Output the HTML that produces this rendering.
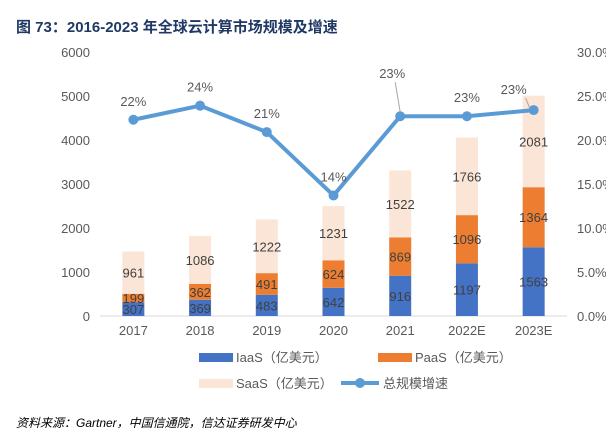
<!DOCTYPE html>
<html><head><meta charset="utf-8"><style>
body{margin:0;width:606px;height:433px;background:#fff;overflow:hidden;font-family:"Liberation Sans","Noto Sans CJK SC",sans-serif}
</style></head><body>
<svg width="606" height="433" xmlns="http://www.w3.org/2000/svg" font-family="Liberation Sans, Noto Sans CJK SC, sans-serif">
<text x="16" y="32" font-size="15" font-weight="bold" fill="#1f3864">图 73：2016-2023 年全球云计算市场规模及增速</text>
<g id="axes"></g><g id="bars"></g><g id="line"></g>
<g font-size="13" fill="#595959">
<rect x="199" y="353" width="34" height="9" fill="#4472c4"/><text x="236" y="362">IaaS（亿美元）</text>
<rect x="378" y="353" width="34" height="9" fill="#ed7d31"/><text x="415" y="362">PaaS（亿美元）</text>
<rect x="199" y="379" width="34" height="9" fill="#fbe5d6"/><text x="236" y="388">SaaS（亿美元）</text>
<line x1="341" y1="383" x2="379" y2="383" stroke="#5b9bd5" stroke-width="4"/><circle cx="360" cy="383" r="5" fill="#5b9bd5"/><text x="383" y="388">总规模增速</text>
</g>
<text x="16" y="427" font-size="12" font-style="italic" fill="#000">资料来源：Gartner，中国信通院，信达证券研发中心</text>
</svg>
<script>
const categories=["2017","2018","2019","2020","2021","2022E","2023E"];
const iaas=[307,369,483,642,916,1197,1563];
const paas=[199,362,491,624,869,1096,1364];
const saas=[961,1086,1222,1231,1522,1766,2081];
const growth=[22.3,23.9,20.9,13.7,22.7,22.7,23.4];
const growthLabels=["22%","24%","21%","14%","23%","23%","23%"];
const leftTicks=[0,1000,2000,3000,4000,5000,6000];
const rightTicks=["0.0%","5.0%","10.0%","15.0%","20.0%","25.0%","30.0%"];
const NS="http://www.w3.org/2000/svg";
const x0=100,x1=567,y0=316,h=264;
const xC=i=>x0+(x1-x0)/categories.length*(i+0.5);
const yL=v=>y0-v/6000*h;
const yR=p=>y0-p/30*h;
function mk(t,a,p,txt){const e=document.createElementNS(NS,t);for(const k in a)e.setAttribute(k,a[k]);if(txt!==undefined)e.textContent=txt;p.appendChild(e);return e;}
const ax=document.getElementById('axes'),bg=document.getElementById('bars'),lg=document.getElementById('line');
leftTicks.forEach((v,i)=>{
 const t=mk('text',{x:90,y:yL(v)+5,'text-anchor':'end','font-size':13,fill:'#595959'},ax,String(v));
 
 
 const r=mk('text',{x:577,y:yL(v)+5,'font-size':13,fill:'#595959'},ax,rightTicks[i]);
 
 
});
mk('line',{x1:x0,x2:x1,y1:y0,y2:y0,stroke:'#d9d9d9'},ax);
const bw=22;
categories.forEach((c,i)=>{
 const cx=xC(i);
 let base=0;
 [[iaas,'#4472c4','iaas'],[paas,'#ed7d31','paas'],[saas,'#fbe5d6','saas']].forEach(([s,col,n])=>{
  const v=s[i];
  const r=mk('rect',{x:cx-bw/2,y:yL(base+v),width:bw,height:yL(base)-yL(base+v),fill:col},bg);
  
  
  const t=mk('text',{x:cx,y:(yL(base)+yL(base+v))/2+5,'text-anchor':'middle','font-size':13,fill:'#404040'},bg,String(v));
  
  
  base+=v;
 });
 const xt=mk('text',{x:cx,y:y0+19,'text-anchor':'middle','font-size':13,fill:'#595959'},ax,c);
 
 
});
const pl=mk('polyline',{points:growth.map((g,i)=>xC(i)+','+yR(g)).join(' '),fill:'none',stroke:'#5b9bd5','stroke-width':4},lg);


growth.forEach((g,i)=>{
 const c=mk('circle',{cx:xC(i),cy:yR(g),r:5,fill:'#5b9bd5'},lg);
 
 
 let lx=xC(i),ly=yR(g)-14;
 if(i==4){lx=xC(i)-8;ly=yR(g)-38;mk('line',{x1:xC(i)-5,y1:ly+4,x2:xC(i),y2:yR(g)-4,stroke:'#a6a6a6'},lg);}
 if(i==6){lx=xC(i)-20;ly=yR(g)-16;mk('line',{x1:lx+12,y1:ly+4,x2:xC(i)-4,y2:yR(g)-2,stroke:'#a6a6a6'},lg);}
 const t=mk('text',{x:lx,y:ly,'text-anchor':'middle','font-size':13,fill:'#595959'},lg,growthLabels[i]);
 
 
});
</script>
</body></html>
